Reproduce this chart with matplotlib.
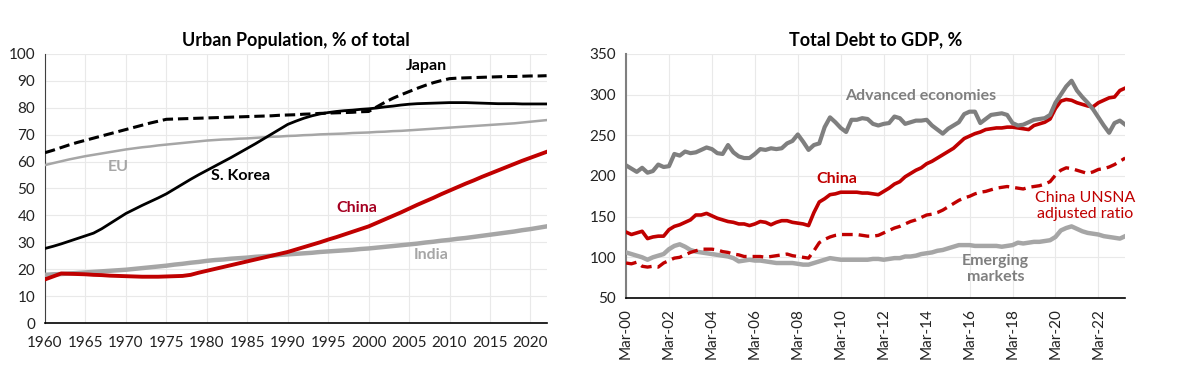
import matplotlib
matplotlib.use("Agg")
import matplotlib.pyplot as plt
import numpy as np

plt.rcParams['font.family'] = ['Lato', 'DejaVu Sans']

# ---------------- Left chart data: Urban population, % of total ----------------
years = list(range(1960, 2023))
japan = [63.3, 64.2, 65.2, 66.2, 67.1, 67.9, 68.7, 69.5, 70.3, 71.1,
         71.9, 72.7, 73.5, 74.3, 75.0, 75.7, 75.8, 75.9, 76.0, 76.1,
         76.2, 76.3, 76.4, 76.5, 76.6, 76.7, 76.8, 76.9, 77.0, 77.2,
         77.3, 77.4, 77.6, 77.7, 77.9, 78.0, 78.1, 78.2, 78.3, 78.5,
         78.6, 80.3, 82.0, 83.5, 84.8, 86.0, 87.2, 88.3, 89.3, 90.1,
         90.8, 91.0, 91.1, 91.2, 91.3, 91.4, 91.5, 91.6, 91.6, 91.7,
         91.8, 91.8, 91.9]
korea = [27.7, 28.5, 29.4, 30.4, 31.4, 32.4, 33.4, 35.0, 36.9, 38.8,
         40.7, 42.2, 43.7, 45.1, 46.5, 48.0, 49.8, 51.6, 53.4, 55.1,
         56.7, 58.3, 59.9, 61.5, 63.2, 64.9, 66.6, 68.4, 70.2, 72.0,
         73.8, 75.0, 76.1, 77.0, 77.7, 78.2, 78.6, 78.9, 79.1, 79.4,
         79.6, 79.9, 80.3, 80.6, 81.0, 81.3, 81.5, 81.6, 81.7, 81.8,
         81.9, 81.9, 81.9, 81.8, 81.7, 81.6, 81.5, 81.5, 81.5, 81.4,
         81.4, 81.4, 81.4]
eu = [58.7, 59.4, 60.1, 60.8, 61.4, 62.0, 62.5, 63.0, 63.5, 64.0,
      64.5, 64.9, 65.3, 65.6, 66.0, 66.3, 66.6, 66.9, 67.2, 67.5,
      67.8, 68.0, 68.2, 68.3, 68.5, 68.6, 68.8, 69.0, 69.2, 69.3,
      69.5, 69.6, 69.8, 69.9, 70.1, 70.2, 70.3, 70.4, 70.6, 70.7,
      70.8, 71.0, 71.1, 71.3, 71.4, 71.6, 71.8, 72.0, 72.2, 72.4,
      72.6, 72.8, 73.0, 73.2, 73.4, 73.6, 73.8, 74.0, 74.2, 74.5,
      74.8, 75.1, 75.4]
china = [16.2, 17.3, 18.4, 18.3, 18.2, 18.1, 17.9, 17.8, 17.6, 17.5,
         17.4, 17.3, 17.2, 17.2, 17.2, 17.3, 17.4, 17.5, 17.9, 18.7,
         19.4, 20.1, 20.8, 21.5, 22.2, 22.9, 23.6, 24.3, 25.0, 25.7,
         26.4, 27.3, 28.2, 29.1, 30.0, 31.0, 31.9, 32.9, 33.9, 34.9,
         35.9, 37.2, 38.5, 39.8, 41.1, 42.5, 43.9, 45.2, 46.5, 47.9,
         49.2, 50.5, 51.8, 53.0, 54.3, 55.5, 56.7, 57.9, 59.1, 60.3,
         61.4, 62.5, 63.6]
india = [17.9, 18.1, 18.2, 18.4, 18.6, 18.8, 19.0, 19.2, 19.4, 19.6,
         19.8, 20.1, 20.4, 20.7, 21.0, 21.3, 21.7, 22.0, 22.4, 22.7,
         23.1, 23.4, 23.6, 23.9, 24.1, 24.3, 24.6, 24.8, 25.0, 25.3,
         25.5, 25.7, 25.9, 26.1, 26.4, 26.6, 26.8, 27.0, 27.2, 27.5,
         27.7, 28.0, 28.3, 28.6, 28.9, 29.2, 29.5, 29.9, 30.2, 30.6,
         30.9, 31.3, 31.6, 32.0, 32.4, 32.8, 33.2, 33.6, 34.0, 34.5,
         34.9, 35.4, 35.9]

# ---------------- Right chart data: Total debt to GDP, % (quarterly, Mar-00 .. Jun-23) ----------------
advanced = [213, 209, 205, 210, 204, 206, 214, 211, 212, 227,
            225, 230, 228, 229, 232, 235, 233, 228, 227, 238,
            229, 224, 222, 222, 227, 233, 232, 234, 233, 234,
            240, 243, 251, 242, 232, 238, 240, 260, 272, 266,
            259, 254, 269, 269, 271, 270, 264, 262, 264, 265,
            273, 271, 264, 266, 268, 268, 269, 262, 257, 252,
            258, 262, 266, 276, 279, 279, 265, 270, 275, 276,
            277, 275, 265, 262, 263, 266, 269, 270, 271, 275,
            290, 300, 310, 317, 305, 297, 290, 282, 272, 262,
            253, 265, 268, 263]
china_debt = [131, 128, 130, 132, 123, 125, 126, 126, 134, 138,
              140, 143, 146, 152, 152, 154, 151, 148, 146, 144,
              143, 141, 141, 139, 141, 144, 143, 140, 143, 145,
              145, 143, 142, 141, 139, 155, 168, 172, 177, 178,
              180, 180, 180, 180, 179, 179, 178, 177, 181, 185,
              190, 193, 199, 203, 207, 210, 215, 218, 222, 226,
              230, 234, 240, 246, 249, 252, 254, 257, 258, 259,
              259, 260, 260, 259, 258, 257, 262, 264, 266, 270,
              283, 292, 294, 293, 290, 288, 286, 285, 290, 293,
              296, 297, 305, 308]
china_unsna = [93, 92, 94, 89, 88, 89, 88, 93, 96, 99,
               100, 103, 106, 108, 110, 110, 110, 109, 107, 106,
               104, 103, 101, 101, 101, 101, 100, 101, 102, 103,
               104, 102, 101, 100, 99, 108, 118, 122, 125, 127,
               128, 128, 128, 128, 127, 126, 126, 127, 130, 133,
               136, 138, 141, 144, 146, 149, 152, 153, 155, 158,
               162, 166, 170, 173, 175, 178, 180, 181, 183, 185,
               186, 187, 186, 185, 184, 186, 187, 188, 190, 193,
               201, 207, 210, 209, 207, 205, 203, 205, 208, 209,
               211, 214, 218, 222]
emerging = [106, 104, 102, 100, 97, 100, 102, 104, 110, 114,
            116, 113, 109, 107, 106, 105, 104, 103, 102, 101,
            99, 95, 96, 97, 96, 96, 95, 94, 93, 93,
            93, 93, 92, 91, 91, 93, 95, 97, 99, 98,
            97, 97, 97, 97, 97, 97, 98, 98, 97, 98,
            99, 99, 101, 101, 102, 104, 105, 106, 108, 109,
            111, 113, 115, 115, 115, 114, 114, 114, 114, 114,
            113, 114, 115, 118, 117, 118, 119, 119, 120, 121,
            125, 133, 136, 138, 135, 132, 130, 129, 128, 126,
            125, 124, 123, 126]
quarter_labels = ["Mar-00", "Mar-02", "Mar-04", "Mar-06", "Mar-08", "Mar-10",
                  "Mar-12", "Mar-14", "Mar-16", "Mar-18", "Mar-20", "Mar-22"]

RED = "#C00000"
DKRED = "#A50021"
LGRAY = "#A6A6A6"
MGRAY = "#7F7F7F"
GRID = "#E9E9E9"
FS = 11.5

fig = plt.figure(figsize=(12, 3.85), dpi=100)

# ---------------- Left axes ----------------
ax1 = fig.add_axes([0.0375, 0.161, 0.418, 0.699])
ax1.plot(years, india, color=LGRAY, lw=3.2, zorder=3)
ax1.plot(years, eu, color=LGRAY, lw=1.8, zorder=3)
ax1.plot(years, china, color=RED, lw=2.8, zorder=4)
ax1.plot(years, korea, color="black", lw=2.0, zorder=5)
ax1.plot(years, japan, color="black", lw=2.2, ls=(0, (3.4, 1.6)), zorder=5)
ax1.set_xlim(1960, 2022)
ax1.set_ylim(0, 100)
ax1.set_xticks(range(1960, 2021, 5))
ax1.set_yticks(range(0, 101, 10))
ax1.grid(True, color=GRID, lw=0.8)
ax1.set_axisbelow(True)
for s in ["top", "right"]:
    ax1.spines[s].set_visible(False)
ax1.spines["left"].set_color("#404040")
ax1.spines["bottom"].set_color("black")
ax1.spines["bottom"].set_linewidth(1.2)
ax1.tick_params(length=0, labelsize=11, colors="#222222")
ax1.tick_params(axis="x", pad=9)
ax1.tick_params(axis="y", pad=7)
ax1.set_title("Urban Population, % of total", fontsize=13, fontweight="bold", pad=6)
ax1.text(2007.2, 95.5, "Japan", color="black", fontweight="bold", fontsize=FS, ha="center", va="center")
ax1.text(1969.0, 58.0, "EU", color=LGRAY, fontweight="bold", fontsize=FS, ha="center", va="center")
ax1.text(1984.2, 54.6, "S. Korea", color="black", fontweight="bold", fontsize=FS, ha="center", va="center")
ax1.text(1998.5, 42.8, "China", color=DKRED, fontweight="bold", fontsize=FS, ha="center", va="center")
ax1.text(2007.7, 25.3, "India", color=LGRAY, fontweight="bold", fontsize=FS, ha="center", va="center")

# ---------------- Right axes ----------------
q = np.arange(len(advanced))
ax2 = fig.add_axes([0.5217, 0.226, 0.416, 0.634])
ax2.plot(q, emerging, color=LGRAY, lw=3.2, zorder=3)
ax2.plot(q, china_unsna, color=RED, lw=2.4, ls=(0, (3.2, 1.8)), zorder=4)
ax2.plot(q, china_debt, color=RED, lw=2.6, zorder=4)
ax2.plot(q, advanced, color=MGRAY, lw=3.0, zorder=5)
ax2.set_xlim(0, len(advanced) - 1)
ax2.set_ylim(50, 350)
ax2.set_yticks(range(50, 351, 50))
ax2.set_xticks(np.arange(0, len(quarter_labels) * 8, 8))
ax2.set_xticklabels(quarter_labels, rotation=90)
ax2.grid(True, color=GRID, lw=0.8)
ax2.set_axisbelow(True)
for s in ["top", "right"]:
    ax2.spines[s].set_visible(False)
ax2.spines["left"].set_color(MGRAY)
ax2.spines["left"].set_linewidth(1.5)
ax2.spines["bottom"].set_color("black")
ax2.spines["bottom"].set_linewidth(1.2)
ax2.tick_params(length=0, labelsize=11, colors="#222222", pad=7)
ax2.set_title("Total Debt to GDP, %", fontsize=13, fontweight="bold", pad=6)
ax2.text(54.9, 298, "Advanced economies", color=MGRAY, fontweight="bold", fontsize=FS, ha="center", va="center")
ax2.text(39.2, 196, "China", color=RED, fontweight="bold", fontsize=FS, ha="center", va="center")
ax2.text(85.6, 163, "China UNSNA\nadjusted ratio", color=RED, fontsize=FS, ha="center", va="center", linespacing=1.2)
ax2.text(68.8, 86, "Emerging\nmarkets", color=MGRAY, fontweight="bold", fontsize=FS, ha="center", va="center", linespacing=1.2)

fig.savefig("out.png", dpi=100, facecolor="white")
